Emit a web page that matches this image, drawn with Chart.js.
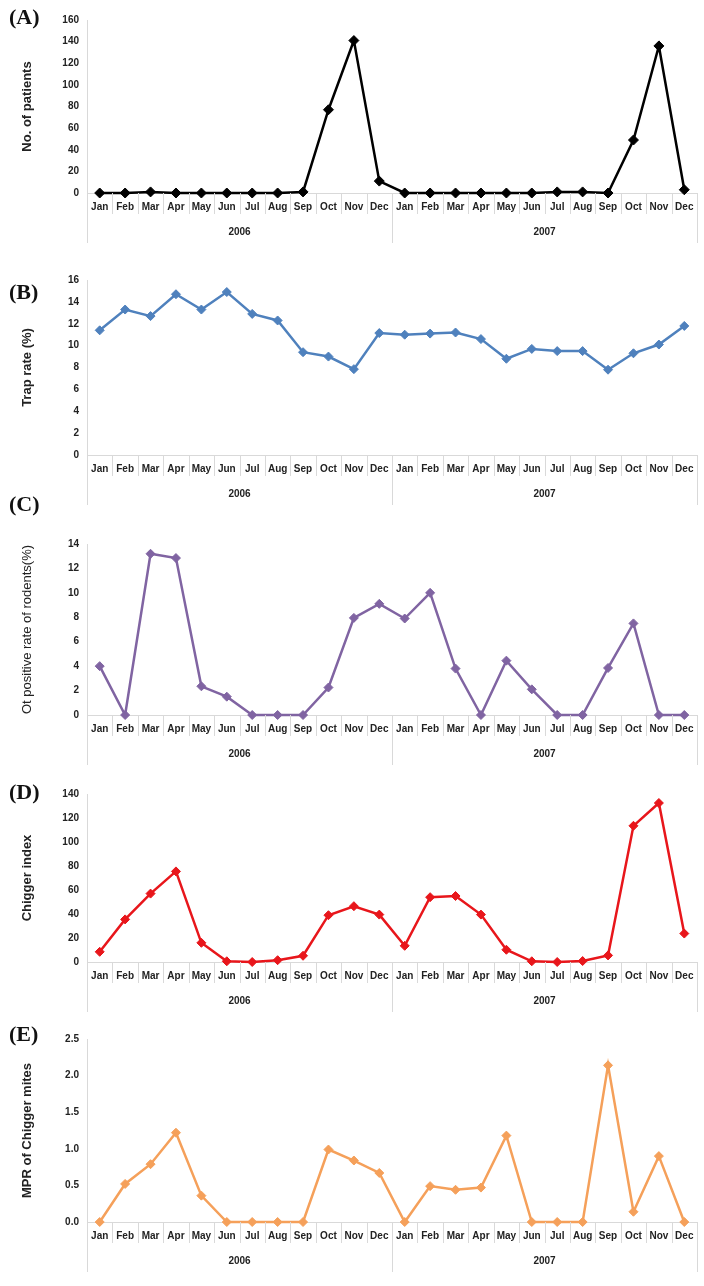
<!DOCTYPE html>
<html>
<head>
<meta charset="utf-8">
<script src="https://cdn.jsdelivr.net/npm/chart.js@4.4.1/dist/chart.umd.min.js"></script>
<style>
  body { margin: 0; background: #fff; }
  #wrap { position: relative; width: 704px; height: 1286px; }
  canvas { position: absolute; left: 0; }
  .tag { position: absolute; left: 9px; font: bold 22px "Liberation Serif", serif; color: #111; }
</style>
</head>
<body>
<div id="wrap"></div>
<script>
// data
const months = ['Jan', 'Feb', 'Mar', 'Apr', 'May', 'Jun', 'Jul', 'Aug', 'Sep', 'Oct', 'Nov', 'Dec'];
const years = ['2006', '2007'];
const categories = months.concat(months);

const patients = [0, 0, 1, 0, 0, 0, 0, 0, 1, 77, 141, 11, 0, 0, 0, 0, 0, 0, 1, 1, 0, 49, 136, 3];
const trapRate = [11.4, 13.3, 12.7, 14.7, 13.3, 14.9, 12.9, 12.3, 9.4, 9.0, 7.85, 11.15,
                  11.0, 11.1, 11.2, 10.6, 8.8, 9.7, 9.5, 9.5, 7.8, 9.3, 10.1, 11.8];
const otRate = [4.0, 0, 13.2, 12.85, 2.35, 1.5, 0, 0, 0, 2.25, 7.95, 9.1,
                7.9, 10.0, 3.8, 0, 4.45, 2.1, 0, 0, 3.85, 7.5, 0, 0];
const chiggerIndex = [8.5, 35.5, 57, 75.5, 16, 0.6, 0, 1.5, 5.2, 39, 46.5, 39.5,
                      13.5, 54, 55, 39.5, 10.2, 0.6, 0, 0.8, 5.5, 113.5, 132.5, 23.7];
const mprChigger = [0, 0.52, 0.79, 1.22, 0.36, 0, 0, 0, 0, 0.99, 0.84, 0.67,
                    0, 0.49, 0.44, 0.47, 1.18, 0, 0, 0, 2.14, 0.14, 0.9, 0];

const ticksA = [0, 20, 40, 60, 80, 100, 120, 140, 160];
const ticksB = [0, 2, 4, 6, 8, 10, 12, 14, 16];
const ticksC = [0, 2, 4, 6, 8, 10, 12, 14];
const ticksD = [0, 20, 40, 60, 80, 100, 120, 140];
const ticksE = [0, 0.5, 1.0, 1.5, 2.0, 2.5];

const panels = [
  { tag: '(A)', tagTop: 4, title: 'No. of patients', bold: true, data: patients, ticks: ticksA,
    color: '#000000', top: 20, bottom: 193, radius: 5, dec: 0 },
  { tag: '(B)', tagTop: 279, title: 'Trap rate (%)', bold: true, data: trapRate, ticks: ticksB,
    color: '#4f81bd', top: 280, bottom: 455, radius: 4.5, dec: 0 },
  { tag: '(C)', tagTop: 491, title: 'Ot positive rate of rodents(%)', bold: false, data: otRate, ticks: ticksC,
    color: '#8064a2', top: 544, bottom: 715, radius: 4.5, dec: 0 },
  { tag: '(D)', tagTop: 779, title: 'Chigger index', bold: true, data: chiggerIndex, ticks: ticksD,
    color: '#e8161b', top: 794, bottom: 962, radius: 4.5, dec: 0 },
  { tag: '(E)', tagTop: 1021, title: 'MPR of Chigger mites', bold: true, data: mprChigger, ticks: ticksE,
    color: '#f5a05a', top: 1039, bottom: 1222, radius: 4.5, dec: 1 }
];

const tickFont = { family: '"Liberation Sans Narrow", "Liberation Sans", Arial', size: 10, weight: 'bold' };
const sepColor = '#d9d9d9';

// light separator lines under the x axis, like the spreadsheet original
const separators = {
  id: 'separators',
  afterDraw(chart) {
    const { ctx, chartArea, scales: { x, x2 } } = chart;
    ctx.save();
    ctx.strokeStyle = sepColor;
    ctx.lineWidth = 1;
    ctx.beginPath();
    for (let i = 1; i < x.ticks.length; i++) {
      if (i === months.length) continue;
      const px = Math.round((x.getPixelForTick(i - 1) + x.getPixelForTick(i)) / 2) + 0.5;
      ctx.moveTo(px, chartArea.bottom);
      ctx.lineTo(px, x.bottom - 4);
    }
    const mid = (x2.getPixelForTick(0) + x2.getPixelForTick(1)) / 2;
    [x.left, mid, x.right].forEach(p => {
      const px = Math.round(p) + 0.5;
      ctx.moveTo(px, chartArea.bottom);
      ctx.lineTo(px, x2.bottom);
    });
    ctx.stroke();
    ctx.restore();
  }
};

const wrap = document.getElementById('wrap');

panels.forEach(p => {
  const padTop = 20, padBottom = 6, monthH = 25, yearH = 25;
  const cv = document.createElement('canvas');
  const h = (p.bottom - p.top) + padTop + monthH + yearH + padBottom;
  cv.width = 704;
  cv.height = h;
  cv.style.top = (p.top - padTop) + 'px';
  wrap.appendChild(cv);

  const tag = document.createElement('div');
  tag.className = 'tag';
  tag.style.top = p.tagTop + 'px';
  tag.textContent = p.tag;
  wrap.appendChild(tag);

  new Chart(cv.getContext('2d'), {
    type: 'line',
    data: {
      labels: categories,
      datasets: [{
        data: p.data,
        borderColor: p.color,
        backgroundColor: p.color,
        borderWidth: 2.5,
        pointStyle: 'rectRot',
        pointRadius: p.radius,
        pointBorderWidth: 1,
        tension: 0,
        clip: false
      }]
    },
    options: {
      responsive: false,
      animation: false,
      devicePixelRatio: 1,
      layout: { padding: { top: padTop, bottom: padBottom, left: 0, right: 7 } },
      plugins: { legend: { display: false }, tooltip: { enabled: false } },
      scales: {
        y: {
          min: p.ticks[0],
          max: p.ticks[p.ticks.length - 1],
          afterBuildTicks: s => { s.ticks = p.ticks.map(v => ({ value: v })); },
          afterFit: s => { s.width = 87; },
          grid: { display: false, drawTicks: false },
          border: { display: true, color: sepColor, width: 1 },
          ticks: {
            padding: 8,
            color: '#222',
            font: tickFont,
            callback: v => Number(v).toFixed(p.dec)
          },
          title: {
            display: true,
            text: p.title,
            color: '#222',
            padding: { top: 20, bottom: 0 },
            font: { family: '"Liberation Sans", Arial', size: 13, weight: p.bold ? 'bold' : 'normal' }
          }
        },
        x: {
          position: 'bottom',
          offset: true,
          afterFit: s => { s.height = monthH; },
          grid: { display: false, drawTicks: false, offset: true },
          border: { display: true, color: sepColor, width: 1 },
          ticks: { padding: 8, color: '#222', font: tickFont, autoSkip: false, maxRotation: 0 }
        },
        x2: {
          type: 'category',
          labels: years,
          position: 'bottom',
          offset: true,
          afterFit: s => { s.height = yearH; },
          grid: { display: false, drawTicks: false },
          border: { display: false },
          ticks: { padding: 8, color: '#222', font: tickFont, maxRotation: 0 }
        }
      }
    },
    plugins: [separators]
  });
});
</script>
</body>
</html>
